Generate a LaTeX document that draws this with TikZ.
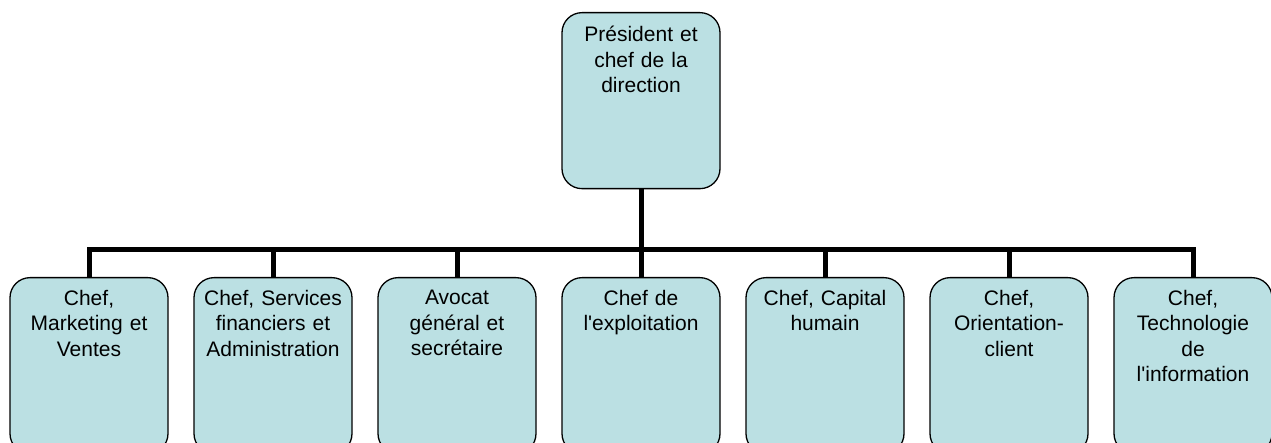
\documentclass[tikz,border=0pt]{standalone}
\usepackage{fontspec}
\newfontfamily\orgfont{Liberation Sans}
\definecolor{boxblue}{RGB}{187,224,227}
\begin{document}
\begin{tikzpicture}[x=1pt, y=-1pt,
    unit/.style={draw, line width=1.3pt, fill=boxblue, rounded corners=20pt,
      minimum width=158pt, minimum height=176pt, inner sep=0pt, anchor=north},
    title/.style={text width=156pt, align=center, inner sep=0pt, anchor=north,
      font=\orgfont\fontsize{21}{25.5}\selectfont},
    link/.style={line width=5pt}]
        \useasboundingbox (0,0) rectangle (1271,443);
        \clip (0,0) rectangle (1271,443);
        \node[unit] (ceo) at (641,12) {};
        \node[unit] (u1) at (89,277) {};
        \node[unit] (u2) at (273,277) {};
        \node[unit] (u3) at (457,277) {};
        \node[unit] (u4) at (641,277) {};
        \node[unit] (u5) at (825,277) {};
        \node[unit] (u6) at (1009,277) {};
        \node[unit] (u7) at (1193,277) {};
        \node[title] (ceo-t) at ([yshift=-14pt]ceo.north) {Président et\\chef de la\\direction};
        \node[title] (u1-t) at ([yshift=-13pt]u1.north) {Chef,\\Marketing et\\Ventes};
        \node[title] (u2-t) at ([yshift=-13pt]u2.north) {Chef, Services\\financiers et\\Administration};
        \node[title] (u3-t) at ([yshift=-13pt]u3.north) {Avocat\\général et\\secrétaire};
        \node[title] (u4-t) at ([yshift=-13pt]u4.north) {Chef de\\l'exploitation};
        \node[title] (u5-t) at ([yshift=-13pt]u5.north) {Chef, Capital\\humain};
        \node[title] (u6-t) at ([yshift=-13pt]u6.north) {Chef,\\Orientation-\\client};
        \node[title] (u7-t) at ([yshift=-13pt]u7.north) {Chef,\\Technologie\\de\\l'information};
        \coordinate (bus) at (641,250);
        \draw[link] (ceo.south) -- (bus);
        \foreach \u in {u1,u2,u3,u4,u5,u6,u7}
            \draw[link] (bus) -| (\u.north);
\end{tikzpicture}
\end{document}
